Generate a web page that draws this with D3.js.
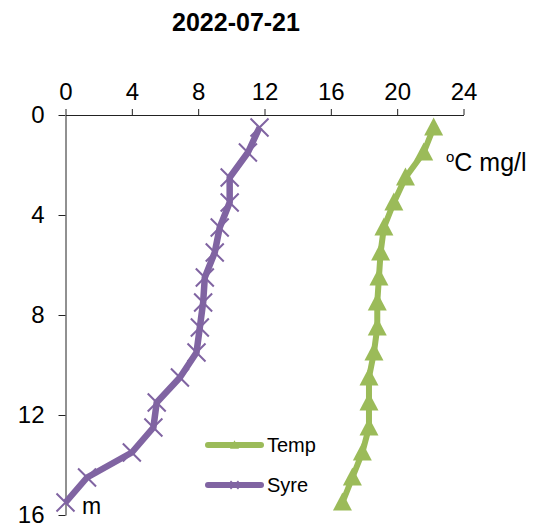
<!DOCTYPE html>
<html>
<head>
<meta charset="utf-8">
<script src="https://cdn.jsdelivr.net/npm/d3@7/dist/d3.min.js"></script>
<style>
  html, body { margin: 0; padding: 0; background: #fff; }
  svg { display: block; font-family: "Liberation Sans", Arial, sans-serif; }
</style>
</head>
<body>
<svg id="chart" width="541" height="531"></svg>
<script>
// Depth profile, 2022-07-21
const title = "2022-07-21";
const depths = [0.5, 1.5, 2.5, 3.5, 4.5, 5.5, 6.5, 7.5, 8.5, 9.5, 10.5, 11.5, 12.5, 13.5, 14.5, 15.5];
const temp = [22.2, 21.6, 20.5, 19.8, 19.2, 19.0, 18.9, 18.8, 18.8, 18.6, 18.3, 18.3, 18.3, 17.9, 17.3, 16.7];
const syre = [11.7, 11.0, 9.9, 9.9, 9.3, 9.0, 8.4, 8.3, 8.1, 7.9, 6.9, 5.5, 5.3, 4.0, 1.3, 0.0];
const xTicks = [0, 4, 8, 12, 16, 20, 24];
const yTicks = [0, 4, 8, 12, 16];
const seriesNames = ["Temp", "Syre"];
const colors = { Temp: "#9BBB59", Syre: "#8064A2" };

const svg = d3.select("#chart");
const x = d3.scaleLinear().domain([0, 24]).range([65.5, 463.5]);
const y = d3.scaleLinear().domain([0, 16]).range([115, 515]);

// title
svg.append("text")
  .attr("x", 236).attr("y", 31)
  .attr("text-anchor", "middle")
  .attr("font-size", 25).attr("font-weight", "bold")
  .text(title);

// top value axis
const gx = svg.append("g").attr("transform", `translate(0,${y(0)})`)
  .call(d3.axisTop(x).tickValues(xTicks).tickSize(6).tickSizeOuter(0).tickPadding(9));
gx.selectAll("text").attr("font-size", 24).attr("fill", "#000").attr("font-family", "Liberation Sans, Arial, sans-serif");

// left depth axis
const gy = svg.append("g").attr("transform", `translate(${x(0)},0)`)
  .call(d3.axisLeft(y).tickValues(yTicks).tickSize(7).tickSizeOuter(0).tickPadding(14));
gy.selectAll("text").attr("font-size", 24).attr("fill", "#000").attr("font-family", "Liberation Sans, Arial, sans-serif");

svg.selectAll(".domain, .tick line").attr("stroke", "#222").attr("stroke-width", 1);

// unit labels
const unit = svg.append("text").attr("x", 446).attr("y", 171).attr("font-size", 25);
unit.append("tspan").attr("font-size", 15).attr("dy", -9).text("o");
unit.append("tspan").attr("dy", 9).text("C mg/l");
svg.append("text").attr("x", 82).attr("y", 514).attr("font-size", 23).text("m");

const line = vals => d3.line()
  .x((d, i) => x(vals[i]))
  .y(d => y(d))(depths);

function triangle(g, cx, cy, s) {
  const h = s * 0.95;
  g.append("path")
    .attr("d", `M${cx},${cy - h * 0.55}L${cx + s / 2},${cy + h * 0.45}L${cx - s / 2},${cy + h * 0.45}Z`)
    .attr("fill", colors.Temp);
}
function cross(g, cx, cy, r, w) {
  g.append("path")
    .attr("d", `M${cx - r},${cy - r}L${cx + r},${cy + r}M${cx - r},${cy + r}L${cx + r},${cy - r}`)
    .attr("stroke", colors.Syre).attr("stroke-width", w).attr("fill", "none");
}

// Temp series
svg.append("path").attr("d", line(temp))
  .attr("fill", "none").attr("stroke", colors.Temp).attr("stroke-width", 6)
  .attr("stroke-linejoin", "round");
const gt = svg.append("g");
depths.forEach((d, i) => triangle(gt, x(temp[i]), y(d), 19));

// Syre series
svg.append("path").attr("d", line(syre))
  .attr("fill", "none").attr("stroke", colors.Syre).attr("stroke-width", 6.5)
  .attr("stroke-linejoin", "round");
const gs = svg.append("g");
depths.forEach((d, i) => cross(gs, x(syre[i]), y(d), 9, 2));

// legend
const legend = svg.append("g");
seriesNames.forEach((name, i) => {
  const ly = 445 + i * 40;
  legend.append("line")
    .attr("x1", 208).attr("x2", 261).attr("y1", ly).attr("y2", ly)
    .attr("stroke", colors[name]).attr("stroke-width", 6).attr("stroke-linecap", "round");
  if (name === "Temp") triangle(legend, 234.5, ly, 9);
  else cross(legend, 234.5, ly, 4, 1.5);
  legend.append("text").attr("x", 267).attr("y", ly + 7)
    .attr("font-size", 20).text(name);
});
</script>
</body>
</html>
